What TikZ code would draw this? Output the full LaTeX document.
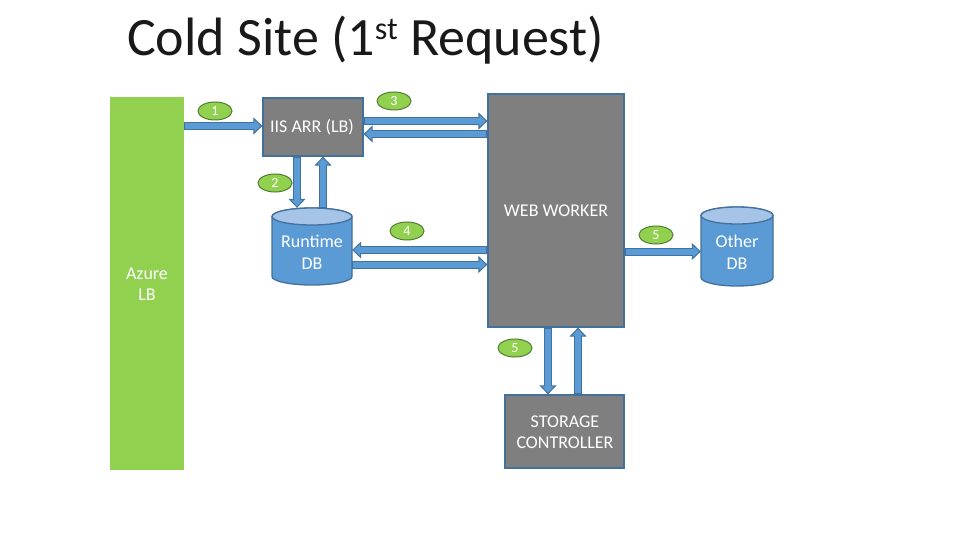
\documentclass[tikz,border=0pt]{standalone}
\usepackage{fontspec}
\setmainfont{Carlito}
\usetikzlibrary{arrows.meta,shapes.geometric}
\definecolor{boxgray}{HTML}{7F7F7F}
\definecolor{edgeblue}{HTML}{41719C}
\definecolor{fillblue}{HTML}{5B9BD5}
\definecolor{topblue}{HTML}{A5C4E8}
\definecolor{azgreen}{HTML}{92D050}
\definecolor{lbledge}{HTML}{507E32}
\newcommand{\dbcylinder}[4]{%
  \path[fill=fillblue, draw=edgeblue, line width=1.3pt]
    (#1,#2+8.5) -- (#1,#4-8.5)
    arc[start angle=180, end angle=0, x radius={(#3-#1)/2}, y radius=8.5]
    -- (#3,#2+8.5)
    arc[start angle=0, end angle=-180, x radius={(#3-#1)/2}, y radius=8.5]
    -- cycle;
  \path[fill=topblue, draw=edgeblue, line width=1.3pt]
    ({(#1+#3)/2},#2+8.5) ellipse[x radius={(#3-#1)/2}, y radius=8.5];
}
\begin{document}
\begin{tikzpicture}[x=1pt,y=-1pt,
  box/.style={draw=edgeblue, line width=1.3pt, fill=boxgray, inner sep=0pt},
  wtext/.style={text=white, align=center, inner sep=0pt, font=\fontsize{18}{21.5}\selectfont},
  lbl/.style={ellipse, draw=lbledge, fill=azgreen, line width=1pt, minimum width=34pt,
    minimum height=18pt, inner sep=0pt, text=white, font=\fontsize{14}{14}\selectfont},
  blk/.style={draw=edgeblue, line width=8pt,
    -{Triangle[length=9pt, width=17pt, line width=1pt, fill=fillblue]},
    postaction={draw=fillblue, line width=6pt, -, shorten <=1pt, shorten >=7.5pt}}
]
\useasboundingbox (0,0) rectangle (960,540);
\fill[white] (0,0) rectangle (960,540);

% title
\node[anchor=base west, inner sep=0pt, font=\fontsize{54}{64}\selectfont, text=black!90] (title)
  at (127,56) {Cold Site (1\raisebox{16pt}{\fontsize{32}{32}\selectfont st} Request)};

% Azure LB
\node[fill=azgreen, minimum width=74pt, minimum height=373pt, inner sep=0pt] (azlb) at (147,283.5) {};
\node[wtext] (azlbtext) at (147,284) {Azure\\LB};

% IIS ARR
\node[box, minimum width=100pt, minimum height=58pt] (iis) at (313,127) {};
\node[wtext] (iistext) at (312,127) {IIS ARR (LB)};

% Web worker
\node[box, minimum width=136pt, minimum height=233pt] (ww) at (556,210.5) {};
\node[wtext] (wwtext) at (556,211) {WEB WORKER};

% Storage controller
\node[box, minimum width=119pt, minimum height=73pt] (sc) at (564.5,431.5) {};
\node[wtext] (sctext) at (565,432) {STORAGE\\CONTROLLER};

% Runtime DB
\dbcylinder{272}{208}{352}{285}
\node[minimum width=80pt, minimum height=77pt, inner sep=0pt] (rdb) at (312,246.5) {};
\node[wtext] (rdbtext) at (312,252.5) {Runtime\\DB};

% Other DB
\dbcylinder{701}{207}{773}{286}
\node[minimum width=72pt, minimum height=79pt, inner sep=0pt] (odb) at (737,246.5) {};
\node[wtext] (odbtext) at (737,252) {Other\\DB};

% arrows
\draw[blk] (azlb.east |- 0,126) -- (iis.west |- 0,126);
\draw[blk] (iis.east |- 0,121) -- (ww.west |- 0,121);
\draw[blk] (ww.west |- 0,134) -- (iis.east |- 0,134);
\draw[blk] (iis.south -| 297,0) -- (rdb.north -| 297,0);
\draw[blk] (rdb.north -| 323,0) -- (iis.south -| 323,0);
\draw[blk] (ww.west |- 0,250) -- (rdb.east |- 0,250);
\draw[blk] (rdb.east |- 0,264.5) -- (ww.west |- 0,264.5);
\draw[blk] (ww.east |- 0,251.5) -- (odb.west |- 0,251.5);
\draw[blk] (ww.south -| 548,0) -- (sc.north -| 548,0);
\draw[blk] (sc.north -| 578,0) -- (ww.south -| 578,0);

% step labels
\node[lbl] (l1) at (215,111) {1};
\node[lbl] (l3) at (394,101) {3};
\node[lbl] (l2) at (275,183) {2};
\node[lbl] (l4) at (407,231) {4};
\node[lbl] (l5a) at (656,235) {5};
\node[lbl] (l5b) at (515,348) {5};
\end{tikzpicture}
\end{document}
